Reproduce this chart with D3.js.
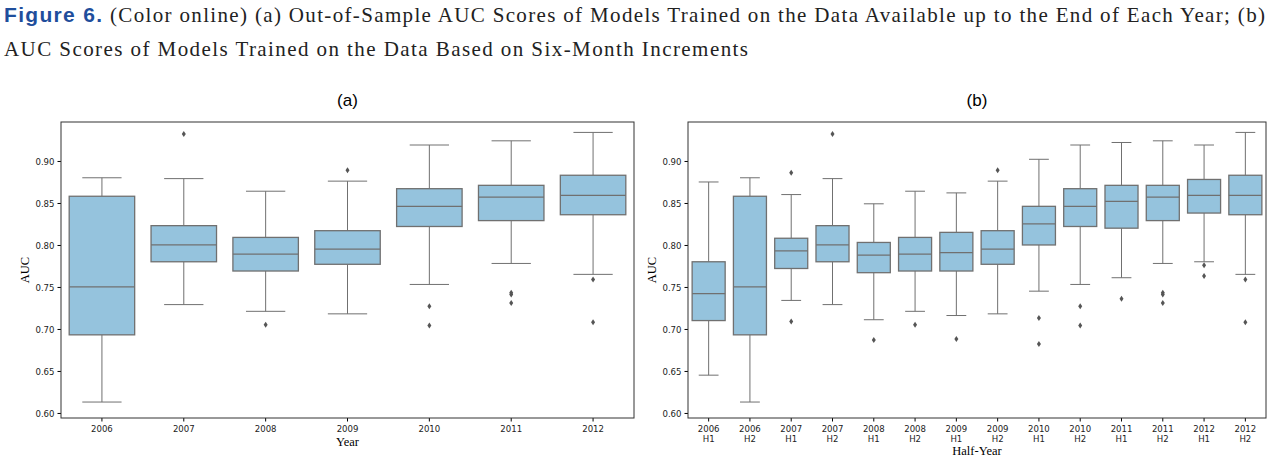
<!DOCTYPE html>
<html><head><meta charset="utf-8">
<script src="https://cdn.jsdelivr.net/npm/d3@7"></script>
<style>body{margin:0;background:#fff}</style></head>
<body><svg id="c" width="1280" height="462"></svg>
<script>
// [lowWhisker, q1, median, q3, highWhisker]
const yearCats = ["2006","2007","2008","2009","2010","2011","2012"];
const yearStats = [
 [0.613,0.693,0.750,0.858,0.880],
 [0.729,0.780,0.800,0.823,0.879],
 [0.721,0.769,0.789,0.809,0.864],
 [0.718,0.777,0.795,0.817,0.876],
 [0.753,0.822,0.846,0.867,0.919],
 [0.778,0.829,0.857,0.871,0.924],
 [0.765,0.836,0.859,0.883,0.934]];
const yearOut = [[],[0.932],[0.705],[0.889],[0.727,0.704],[0.743,0.741,0.731],[0.759,0.708]];
const halfCats = ["2006 H1","2006 H2","2007 H1","2007 H2","2008 H1","2008 H2","2009 H1","2009 H2","2010 H1","2010 H2","2011 H1","2011 H2","2012 H1","2012 H2"];
const halfStats = [
 [0.645,0.710,0.742,0.780,0.875], yearStats[0],
 [0.734,0.772,0.793,0.808,0.860], yearStats[1],
 [0.711,0.767,0.788,0.803,0.849], yearStats[2],
 [0.716,0.769,0.791,0.815,0.862], yearStats[3],
 [0.745,0.800,0.825,0.846,0.902], yearStats[4],
 [0.761,0.820,0.852,0.871,0.922], yearStats[5],
 [0.780,0.838,0.859,0.878,0.919], yearStats[6]];
const halfOut = [[],[],[0.709,0.886],[0.932],[0.687],[0.705],[0.688],[0.889],[0.713,0.682],[0.727,0.704],[0.736],[0.743,0.741,0.731],[0.776,0.763],[0.759,0.708]];
const yTicks = [0.60,0.65,0.70,0.75,0.80,0.85,0.90];

const svg = d3.select("#c");
svg.append("text").attr("x",4).attr("y",22).attr("font-size",21).attr("font-family","Liberation Sans, Arial").attr("font-weight","bold").attr("fill","#1f4e9c").attr("textLength",98).text("Figure 6.");
svg.append("text").attr("x",110).attr("y",22).attr("font-size",21).attr("font-family","Liberation Serif, serif").attr("fill","#222").attr("textLength",1155).text("(Color online) (a) Out-of-Sample AUC Scores of Models Trained on the Data Available up to the End of Each Year; (b)");
svg.append("text").attr("x",4).attr("y",56).attr("font-size",21).attr("font-family","Liberation Serif, serif").attr("fill","#222").attr("textLength",744).text("AUC Scores of Models Trained on the Data Based on Six-Month Increments");

function panel(x0,x1,cats,stats,outs,title,xlabel){
  const y = d3.scaleLinear().domain([0.594,0.9464]).range([418,122]);
  const x = d3.scaleBand().domain(cats).range([x0,x1]).paddingInner(0.2).paddingOuter(0.1);
  const g = svg.append("g");
  g.append("text").attr("x",(x0+x1)/2).attr("y",106).attr("text-anchor","middle").attr("font-family","Liberation Sans, Arial").attr("font-size",17).text(title);
  const ya = g.append("g").attr("transform",`translate(${x0},0)`).call(d3.axisLeft(y).tickValues(yTicks).tickFormat(d3.format(".2f")).tickSize(3.5));
  ya.selectAll("text").attr("font-family","DejaVu Sans Condensed, DejaVu Sans").attr("font-size",9.5).attr("fill","#222");
  ya.select(".domain").remove();
  const xa = g.append("g").attr("transform",`translate(0,418)`).call(d3.axisBottom(x).tickSize(3.5).tickFormat(""));
  xa.select(".domain").remove();
  xa.selectAll(".tick").each(function(d){
    const parts = d.split(" ");
    const tx = d3.select(this).append("text").attr("fill","#222").attr("font-family","DejaVu Sans Condensed, DejaVu Sans").attr("font-size",9.5).attr("text-anchor","middle");
    parts.forEach((p,i)=>tx.append("tspan").attr("x",0).attr("y",14+i*10).text(p));
  });
  g.append("rect").attr("x",x0).attr("y",122).attr("width",x1-x0).attr("height",296).attr("fill","none").attr("stroke","#333").attr("stroke-width",1);
  g.append("text").attr("transform",`translate(${x0-32},270) rotate(-90)`).attr("text-anchor","middle").attr("font-family","Liberation Serif, serif").attr("font-size",12.5).text("AUC");
  g.append("text").attr("x",(x0+x1)/2).attr("y",cats[0].includes(" ")?455:446).attr("text-anchor","middle").attr("font-family","Liberation Serif, serif").attr("font-size",12.5).text(xlabel);
  cats.forEach((c,i)=>{
    const s = stats[i], bx = x(c), bw = x.bandwidth(), cx = bx+bw/2;
    const col="#707070";
    g.append("line").attr("x1",cx).attr("x2",cx).attr("y1",y(s[0])).attr("y2",y(s[1])).attr("stroke",col);
    g.append("line").attr("x1",cx).attr("x2",cx).attr("y1",y(s[3])).attr("y2",y(s[4])).attr("stroke",col);
    [s[0],s[4]].forEach(v=>g.append("line").attr("x1",cx-bw*0.3).attr("x2",cx+bw*0.3).attr("y1",y(v)).attr("y2",y(v)).attr("stroke",col));
    g.append("rect").attr("x",bx).attr("width",bw).attr("y",y(s[3])).attr("height",y(s[1])-y(s[3])).attr("fill","#95c3dd").attr("stroke",col).attr("stroke-width",1.3);
    g.append("line").attr("x1",bx).attr("x2",bx+bw).attr("y1",y(s[2])).attr("y2",y(s[2])).attr("stroke",col).attr("stroke-width",1.3);
    outs[i].forEach(v=>g.append("path").attr("d",`M${cx},${y(v)-3}L${cx+2},${y(v)}L${cx},${y(v)+3}L${cx-2},${y(v)}Z`).attr("fill","#555"));
  });
}
panel(61,634,yearCats,yearStats,yearOut,"(a)","Year");
panel(688,1266,halfCats,halfStats,halfOut,"(b)","Half-Year");
</script></body></html>
